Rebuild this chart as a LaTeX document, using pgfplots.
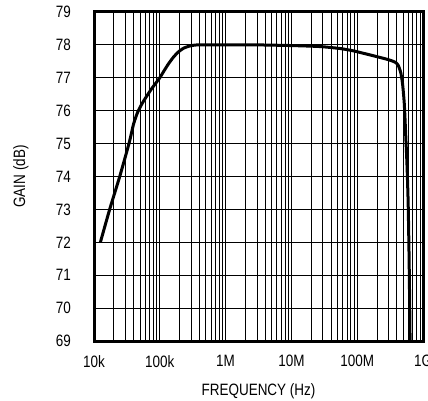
\documentclass[border=0pt]{standalone}
\usepackage{pgfplots}
\pgfplotsset{compat=1.18}
\usepackage{fontspec}
\setmainfont{Liberation Sans}[FakeStretch=0.82]
\begin{document}
\fontsize{16.5}{19}\selectfont
\begin{tikzpicture}
\path[use as bounding box] (-94bp,-60bp) rectangle (334bp,341bp);
\begin{axis}[
  at={(0,0)}, anchor=south west,
  scale only axis, width=329bp, height=329bp,
  xmode=log, xmin=1e4, xmax=1e9, ymin=69, ymax=79,
  xtick={1e4,1e5,1e6,1e7,1e8,1e9},
  xticklabels={10k,100k,1M,10M,100M,1G},
  minor xtick={2e4,3e4,4e4,5e4,6e4,7e4,8e4,9e4,
               2e5,3e5,4e5,5e5,6e5,7e5,8e5,9e5,
               2e6,3e6,4e6,5e6,6e6,7e6,8e6,9e6,
               2e7,3e7,4e7,5e7,6e7,7e7,8e7,9e7,
               2e8,3e8,4e8,5e8,6e8,7e8,8e8,9e8},
  ytick={69,70,...,79},
  grid=both,
  major grid style={black, line width=0.8bp},
  minor grid style={black, line width=0.8bp},
  axis line style={line width=3bp},
  tick style={draw=none},
  /pgf/number format/assume math mode=true,
  ticklabel style={font=\fontsize{16.5}{19}\selectfont, inner sep=0pt},
  xticklabel style={anchor=north},
  yticklabel style={anchor=east},
  xticklabel shift=14bp,
  yticklabel shift=23bp,
  xlabel={FREQUENCY (Hz)}, ylabel={GAIN (dB)},
  label style={font=\fontsize{16.5}{19}\selectfont},
  xlabel style={at={(axis description cs:0.5,0)}, anchor=north, yshift=-42bp, inner sep=0pt},
  ylabel style={at={(axis description cs:-0.246,0.5)}, anchor=north, inner sep=0pt},
]
\addplot[black, line width=3bp, line join=round, smooth, tension=0.35] coordinates {
(12.5e3,72.0) (17.3e3,73.0) (24.6e3,74.0) (34e3,75.0) (40e3,75.6)
(46e3,75.95) (55e3,76.25) (74e3,76.65) (100e3,77.0) (115e3,77.2)
(135e3,77.42) (160e3,77.62) (190e3,77.78) (230e3,77.9) (290e3,77.97)
(380e3,78.0) (1.1e6,78.0) (3e6,78.0) (10e6,77.98)
(27e6,77.95) (55e6,77.89) (87e6,77.82) (176e6,77.67) (300e6,77.55) (380e6,77.47) (420e6,77.38)
(460e6,77.15) (490e6,76.8) (520e6,76.2) (545e6,75.3) (570e6,74.4) (595e6,73.2) (615e6,71.5)
(630e6,69.8) (640e6,68.5)
};
\end{axis}
\end{tikzpicture}
\end{document}
